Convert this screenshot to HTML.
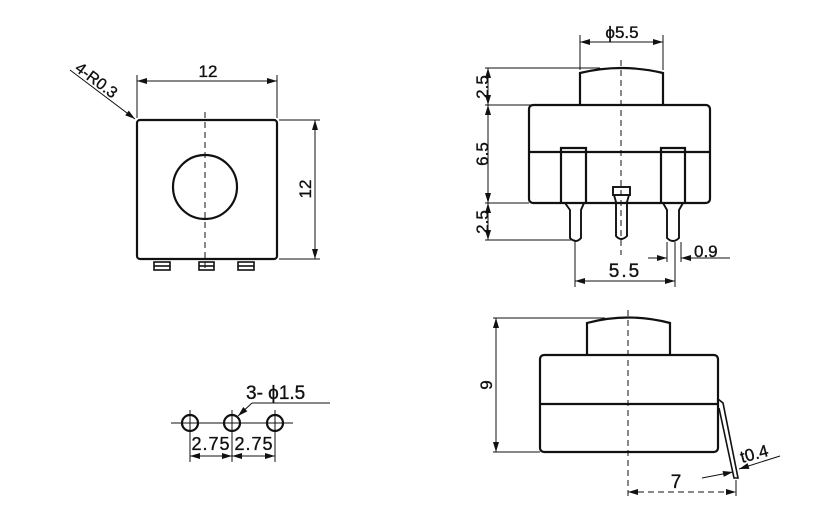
<!DOCTYPE html>
<html><head><style>body{margin:0;background:#fff}svg{display:block}text{font-family:"Liberation Sans",sans-serif;fill:#111;stroke:#111;stroke-width:0.35}</style></head><body>
<svg width="828" height="529" viewBox="0 0 828 529" xmlns="http://www.w3.org/2000/svg">
<defs><marker id="a" viewBox="0 0 10 6" refX="10" refY="3" markerWidth="11" markerHeight="6" orient="auto-start-reverse" markerUnits="userSpaceOnUse"><path d="M0,0L10,3L0,6z" fill="#111"/></marker></defs>
<g fill="none" stroke="#111">
<rect x="137" y="120" width="140" height="139" rx="3" stroke-width="2.2"/>
<circle cx="205" cy="187" r="32" stroke-width="2.2"/>
<line x1="205" y1="112" x2="205" y2="272" stroke-dasharray="6,4" stroke-width="1"/>
<g stroke-width="1.6"><rect x="154" y="262" width="16" height="8"/><rect x="199" y="262" width="15" height="8"/><rect x="238" y="262" width="16" height="8"/>
<line x1="154" y1="266" x2="170" y2="266"/><line x1="199" y1="266" x2="214" y2="266"/><line x1="238" y1="266" x2="254" y2="266"/></g>
<g stroke-width="1">
<line x1="137" y1="75" x2="137" y2="118"/><line x1="277" y1="75" x2="277" y2="118"/>
<line x1="137" y1="81" x2="277" y2="81" marker-start="url(#a)" marker-end="url(#a)"/>
<line x1="279" y1="120" x2="320" y2="120"/><line x1="279" y1="259" x2="320" y2="259"/>
<line x1="315" y1="120" x2="315" y2="259" marker-start="url(#a)" marker-end="url(#a)"/>
<line x1="70" y1="70" x2="135" y2="119" marker-end="url(#a)"/>
</g>
<g stroke-width="2.2">
<path d="M580,105 V73 Q621,63 663,73 V105"/>
<rect x="529" y="105" width="181" height="98" rx="4"/>
<line x1="529" y1="152" x2="710" y2="152"/>
<path d="M561,203 V148 H586 V203"/><path d="M565,203 L570,210 V238 Q576,244 581,238 V210 L584,203" stroke-width="1.9"/>
<path d="M661,203 V148 H685 V203"/><path d="M663,203 L667,210 V238 Q673,244 679,238 V210 L683,203" stroke-width="1.9"/>
<rect x="613" y="187" width="17" height="8" stroke-width="1.9"/>
<path d="M614,195 L616,202 V236 Q621,242 627,236 V202 L629,195" stroke-width="1.9"/>
</g>
<line x1="621" y1="60" x2="621" y2="255" stroke-dasharray="6,4" stroke-width="1"/>
<g stroke-width="1">
<line x1="580" y1="35" x2="580" y2="70"/><line x1="663" y1="35" x2="663" y2="70"/>
<line x1="580" y1="42" x2="663" y2="42" marker-start="url(#a)" marker-end="url(#a)"/>
<line x1="485" y1="68" x2="600" y2="68"/><line x1="485" y1="105" x2="580" y2="105"/><line x1="485" y1="203" x2="529" y2="203"/><line x1="485" y1="240" x2="575" y2="240"/>
<line x1="488" y1="68" x2="488" y2="105" marker-start="url(#a)" marker-end="url(#a)"/>
<line x1="488" y1="105" x2="488" y2="203" marker-start="url(#a)" marker-end="url(#a)"/>
<line x1="488" y1="203" x2="488" y2="240" marker-start="url(#a)" marker-end="url(#a)"/>
<line x1="575" y1="242" x2="575" y2="287"/><line x1="675" y1="242" x2="675" y2="287"/><line x1="667" y1="242" x2="667" y2="262"/><line x1="681" y1="242" x2="681" y2="262"/>
<line x1="575" y1="281" x2="675" y2="281" marker-start="url(#a)" marker-end="url(#a)"/>
<line x1="648" y1="258" x2="667" y2="258" marker-end="url(#a)"/><line x1="730" y1="258" x2="681" y2="258" marker-end="url(#a)"/>
</g>
<g stroke-width="2.2">
<path d="M587,355 V323 Q628,312 670,323 V355"/>
<rect x="540" y="355" width="178" height="97" rx="4"/>
<line x1="540" y1="404" x2="718" y2="404"/>
<path d="M718,399 L723,403 L738,478 L734,478 L719,408" stroke-width="1.6"/>
</g>
<line x1="628" y1="310" x2="628" y2="498" stroke-dasharray="6,4" stroke-width="1"/>
<g stroke-width="1">
<line x1="493" y1="318" x2="605" y2="318"/><line x1="493" y1="452" x2="540" y2="452"/>
<line x1="496" y1="318" x2="496" y2="452" marker-start="url(#a)" marker-end="url(#a)"/>
<line x1="736" y1="480" x2="736" y2="496"/>
<line x1="628" y1="492" x2="736" y2="492" stroke-dasharray="6,4" marker-start="url(#a)" marker-end="url(#a)"/>
<line x1="702" y1="478" x2="733" y2="472" marker-end="url(#a)"/><line x1="780" y1="456" x2="739" y2="469" marker-end="url(#a)"/>
</g>
<g stroke-width="2.2"><circle cx="190" cy="423" r="8"/><circle cx="232" cy="423" r="8"/><circle cx="275" cy="423" r="8"/></g>
<g stroke-width="1">
<line x1="171" y1="423" x2="293" y2="423"/>
<line x1="190" y1="410" x2="190" y2="462"/><line x1="232" y1="410" x2="232" y2="462"/><line x1="275" y1="410" x2="275" y2="462"/>
<line x1="190" y1="456" x2="232" y2="456" marker-start="url(#a)" marker-end="url(#a)"/>
<line x1="232" y1="456" x2="275" y2="456" marker-start="url(#a)" marker-end="url(#a)"/>
<line x1="330" y1="403" x2="252" y2="403"/><line x1="252" y1="403" x2="238" y2="416" marker-end="url(#a)"/>
</g>
</g>
<text x="208" y="77" font-size="17" text-anchor="middle">12</text>
<text transform="translate(311,189) rotate(-90)" font-size="17" text-anchor="middle">12</text>
<text transform="translate(74,70) rotate(37)" font-size="16">4-R0.3</text>
<text x="622" y="38" font-size="17" text-anchor="middle">ϕ5.5</text>
<text transform="translate(488,87) rotate(-90)" font-size="17" text-anchor="middle">2.5</text>
<text transform="translate(488,154) rotate(-90)" font-size="17" text-anchor="middle">6.5</text>
<text transform="translate(488,222) rotate(-90)" font-size="17" text-anchor="middle">2.5</text>
<text x="625" y="277" font-size="19" text-anchor="middle" letter-spacing="2">5.5</text>
<text x="694" y="257" font-size="17">0.9</text>
<text transform="translate(492,385) rotate(-90)" font-size="17" text-anchor="middle">9</text>
<text x="676" y="488" font-size="19" text-anchor="middle">7</text>
<text x="742" y="463" font-size="17" transform="rotate(-15 742 463)">t0.4</text>
<text x="246" y="399" font-size="19">3- ϕ1.5</text>
<text x="211" y="450" font-size="18" text-anchor="middle" letter-spacing="1">2.75</text>
<text x="254" y="450" font-size="18" text-anchor="middle" letter-spacing="1">2.75</text>
</svg>
</body></html>
